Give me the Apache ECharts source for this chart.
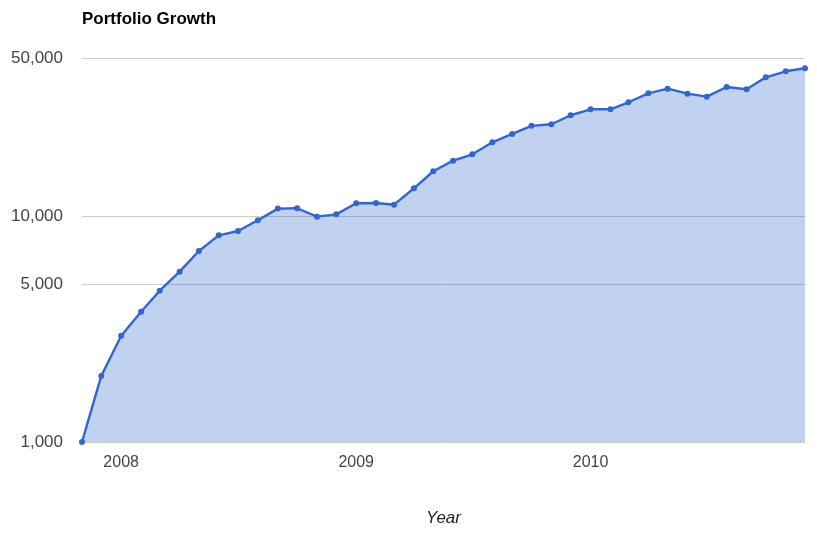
<!DOCTYPE html>
<html>
<head>
<meta charset="utf-8">
<script src="https://cdn.jsdelivr.net/npm/echarts@6/dist/echarts.min.js"></script>
<style>html,body{margin:0;padding:0;background:#fff}#c{width:817px;height:539px}</style>
</head>
<body>
<div id="c"></div>
<script>
const months = ['2007-11-01','2007-12-01','2008-01-01','2008-02-01','2008-03-01','2008-04-01','2008-05-01','2008-06-01','2008-07-01','2008-08-01','2008-09-01','2008-10-01','2008-11-01','2008-12-01','2009-01-01','2009-02-01','2009-03-01','2009-04-01','2009-05-01','2009-06-01','2009-07-01','2009-08-01','2009-09-01','2009-10-01','2009-11-01','2009-12-01','2010-01-01','2010-02-01','2010-03-01','2010-04-01','2010-05-01','2010-06-01','2010-07-01','2010-08-01','2010-09-01','2010-10-01','2010-11-01','2010-12-01'];
const portfolio = [1000,1960,2950,3770,4670,5670,7000,8210,8580,9570,10780,10820,9930,10170,11380,11420,11220,13260,15770,17570,18750,21190,23060,25050,25450,27900,29650,29650,31850,34900,36590,34760,33730,37220,36350,41080,43660,45030];
const yTicks = [1000,5000,10000,50000];

const toTs = s => { const p = s.split('-').map(Number); return Date.UTC(p[0], p[1]-1, p[2]); };
const FONT = 'Liberation Sans, Arial, sans-serif';
const chart = echarts.init(document.getElementById('c'), null, {renderer:'canvas', useUTC:true});
chart.setOption({
  animation:false,
  useUTC:true,
  backgroundColor:'#fff',
  title:{text:'Portfolio Growth', left:77, top:6, textStyle:{fontFamily:FONT, fontSize:17, fontWeight:'bold', color:'#000'}},
  grid:{left:82, right:12, top:58, bottom:97, containLabel:false},
  xAxis:{
    type:'time', min:toTs(months[0]), max:toTs(months[months.length-1]),
    name:'Year', nameLocation:'middle', nameGap:68,
    nameTextStyle:{fontFamily:FONT, fontSize:17, fontStyle:'italic', color:'#222'},
    axisLine:{show:false}, axisTick:{show:false}, splitLine:{show:false},
    axisLabel:{
      formatter:v=>{ const d=new Date(v); return (d.getUTCMonth()===0 && d.getUTCDate()===1) ? String(d.getUTCFullYear()) : ''; },
      fontFamily:FONT, fontSize:16, color:'#444', margin:13, showMinLabel:false, showMaxLabel:false, hideOverlap:false
    }
  },
  yAxis:{
    type:'log', logBase:10, min:1000, max:50000,
    axisLine:{show:false},
    axisTick:{show:false, customValues:yTicks},
    splitLine:{show:true, lineStyle:{color:'#cccccc', width:1}},
    axisLabel:{customValues:yTicks, formatter:v=>Math.round(v).toLocaleString('en-US'), fontFamily:FONT, fontSize:17, color:'#444', margin:19}
  },
  series:[{
    type:'line',
    data:months.map((m,i)=>[toTs(m), portfolio[i]]),
    symbol:'circle', symbolSize:6, showSymbol:true,
    lineStyle:{color:'#3366cc', width:2.4},
    itemStyle:{color:'#3366cc'},
    areaStyle:{color:'#3366cc', opacity:0.3, origin:'start'}
  }]
});
</script>
</body>
</html>
